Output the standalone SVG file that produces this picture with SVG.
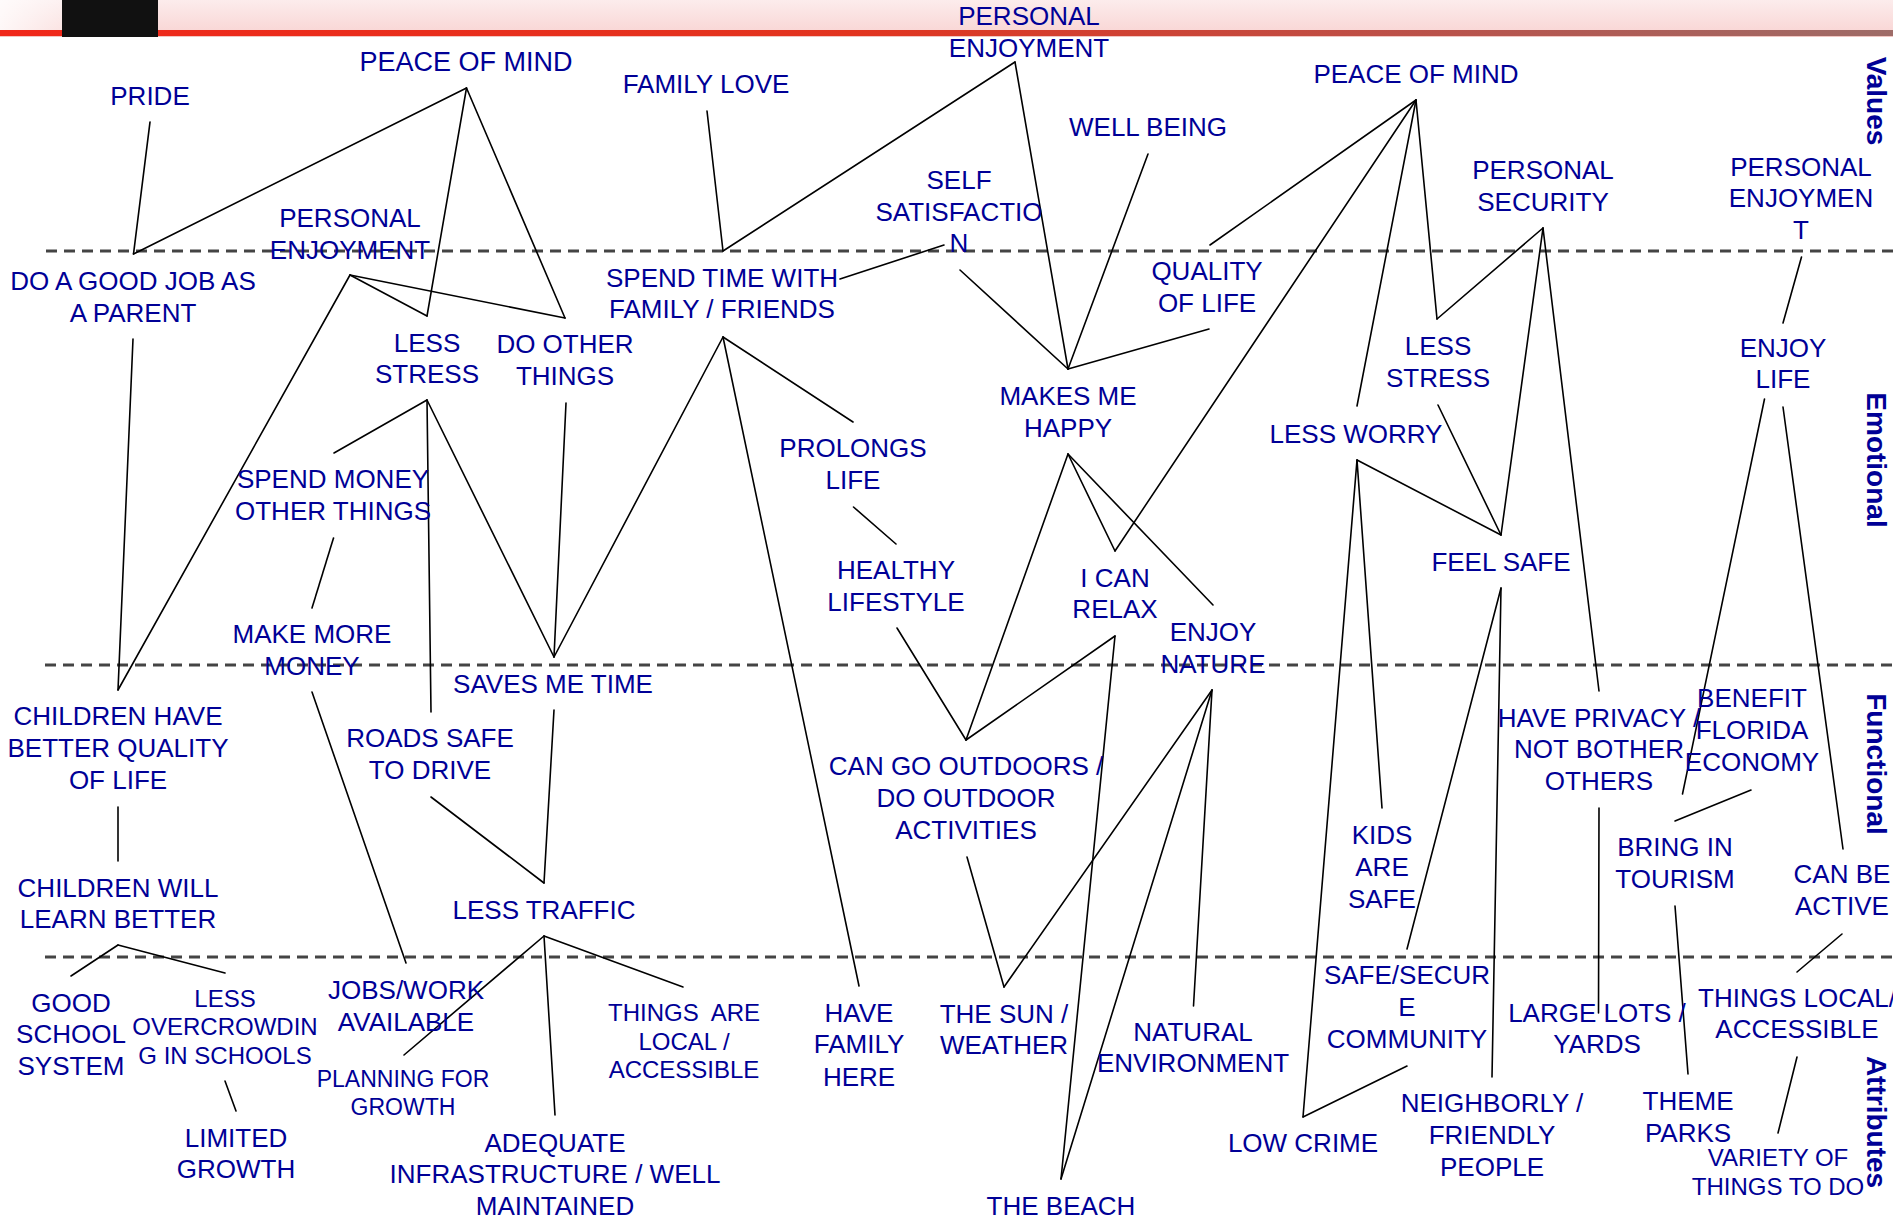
<svg xmlns="http://www.w3.org/2000/svg" width="1893" height="1224" viewBox="0 0 1893 1224">
<defs>
<linearGradient id="band" x1="0" y1="0" x2="0" y2="1">
<stop offset="0" stop-color="#fcecec"/>
<stop offset="1" stop-color="#f9d7d6"/>
</linearGradient>
<linearGradient id="fade" x1="0" y1="0" x2="1" y2="0">
<stop offset="0" stop-color="#ffffff" stop-opacity="0.8"/>
<stop offset="1" stop-color="#ffffff" stop-opacity="0.3"/>
</linearGradient>
<linearGradient id="red" x1="0" y1="0" x2="1" y2="0">
<stop offset="0" stop-color="#f0281a"/>
<stop offset="0.45" stop-color="#e2341f"/>
<stop offset="0.75" stop-color="#bb5149"/>
<stop offset="1" stop-color="#9e6c68"/>
</linearGradient>
</defs>
<style>
.t{font-family:"Liberation Sans",Arial,sans-serif;font-size:26px;fill:#000096;text-anchor:middle}
.s24{font-size:24px}
.s23{font-size:23px}
.s27{font-size:27px}
.lab{font-family:"Liberation Sans",Arial,sans-serif;font-size:28px;font-weight:bold;fill:#000096;text-anchor:middle}
.c line{stroke:#000;stroke-width:1.6;stroke-linecap:round}
.d{stroke:#444;stroke-width:3;stroke-dasharray:11 7;fill:none}
</style>
<rect x="0" y="0" width="1893" height="1224" fill="#ffffff"/>
<g id="header">
<rect x="0" y="0" width="1893" height="31" fill="url(#band)"/>
<rect x="0" y="0" width="62" height="31" fill="url(#fade)"/>
<rect x="0" y="30" width="1893" height="6" fill="url(#red)"/>
<rect x="0" y="36" width="1893" height="1" fill="#f2c6c2"/>
<rect x="62" y="0" width="96" height="37" fill="#111111"/>
</g>
<g id="levels">
<line class="d" x1="46" y1="251" x2="1893" y2="251"/>
<line class="d" x1="45" y1="665" x2="1893" y2="665"/>
<line class="d" x1="45" y1="957" x2="1893" y2="957"/>
<text class="lab" transform="translate(1867,101) rotate(90)">Values</text>
<text class="lab" transform="translate(1867,460) rotate(90)">Emotional</text>
<text class="lab" transform="translate(1867,764) rotate(90)">Functional</text>
<text class="lab" transform="translate(1867,1122) rotate(90)">Attributes</text>
</g>
<g id="connectors" class="c">
<line x1="150" y1="122" x2="133.5" y2="254"/>
<line x1="466.5" y1="88" x2="133.5" y2="254"/>
<line x1="466.5" y1="88" x2="427" y2="316"/>
<line x1="466.5" y1="88" x2="565" y2="318"/>
<line x1="350" y1="275" x2="427" y2="316"/>
<line x1="350" y1="275" x2="565" y2="318"/>
<line x1="350" y1="275" x2="118" y2="690"/>
<line x1="133" y1="339" x2="118" y2="690"/>
<line x1="427" y1="400" x2="334" y2="453"/>
<line x1="427" y1="400" x2="431" y2="712"/>
<line x1="427" y1="400" x2="554" y2="657"/>
<line x1="566" y1="403" x2="554" y2="657"/>
<line x1="554" y1="657" x2="723" y2="337"/>
<line x1="333.5" y1="538" x2="312" y2="608"/>
<line x1="312" y1="692" x2="406" y2="963"/>
<line x1="118" y1="807" x2="118" y2="861"/>
<line x1="431" y1="797" x2="544" y2="883"/>
<line x1="554" y1="710" x2="544" y2="883"/>
<line x1="118" y1="945" x2="71" y2="976"/>
<line x1="118" y1="945" x2="225" y2="973"/>
<line x1="225" y1="1081" x2="236" y2="1111"/>
<line x1="544" y1="936" x2="404" y2="1055"/>
<line x1="544" y1="936" x2="555" y2="1115"/>
<line x1="544" y1="936" x2="683" y2="987"/>
<line x1="707" y1="111" x2="723" y2="251"/>
<line x1="1015" y1="62" x2="723" y2="251"/>
<line x1="1015" y1="62" x2="1068" y2="369"/>
<line x1="1148" y1="154" x2="1068" y2="369"/>
<line x1="840" y1="279" x2="944" y2="245"/>
<line x1="960" y1="270" x2="1068" y2="369"/>
<line x1="1209" y1="329" x2="1068" y2="369"/>
<line x1="1210" y1="245" x2="1416" y2="100"/>
<line x1="723" y1="337" x2="853" y2="422"/>
<line x1="723" y1="337" x2="859" y2="986"/>
<line x1="853.5" y1="507" x2="896" y2="544"/>
<line x1="897" y1="628" x2="966" y2="740"/>
<line x1="966" y1="740" x2="1068" y2="454"/>
<line x1="966" y1="740" x2="1115" y2="636"/>
<line x1="1068" y1="454" x2="1115" y2="551"/>
<line x1="1068" y1="454" x2="1213" y2="605"/>
<line x1="1115" y1="551" x2="1416" y2="100"/>
<line x1="1115" y1="636" x2="1061" y2="1179"/>
<line x1="967" y1="857" x2="1004" y2="987"/>
<line x1="1004" y1="987" x2="1212" y2="690"/>
<line x1="1061" y1="1179" x2="1212" y2="690"/>
<line x1="1193.5" y1="1006" x2="1212" y2="690"/>
<line x1="1416" y1="100" x2="1357" y2="406"/>
<line x1="1416" y1="100" x2="1437" y2="319"/>
<line x1="1543" y1="228" x2="1437" y2="319"/>
<line x1="1543" y1="228" x2="1501" y2="535"/>
<line x1="1543" y1="228" x2="1599" y2="691"/>
<line x1="1438" y1="405" x2="1501" y2="535"/>
<line x1="1357" y1="460" x2="1501" y2="535"/>
<line x1="1357" y1="460" x2="1303" y2="1117"/>
<line x1="1357" y1="460" x2="1382" y2="808"/>
<line x1="1501" y1="588" x2="1407" y2="949"/>
<line x1="1501" y1="588" x2="1492" y2="1077"/>
<line x1="1407" y1="1066" x2="1303" y2="1117"/>
<line x1="1599" y1="808" x2="1598.5" y2="1013"/>
<line x1="1801.5" y1="257" x2="1783" y2="323"/>
<line x1="1764.5" y1="399" x2="1682.5" y2="794"/>
<line x1="1783" y1="407" x2="1843" y2="849"/>
<line x1="1751" y1="790" x2="1675" y2="821"/>
<line x1="1675" y1="906" x2="1688" y2="1074"/>
<line x1="1842" y1="934" x2="1797" y2="972"/>
<line x1="1797" y1="1057" x2="1778" y2="1133"/>
</g>
<g id="n-pride"><text class="t" x="150" y="105">PRIDE</text></g>
<g id="n-peace1"><text class="t s27" x="466" y="71">PEACE OF MIND</text></g>
<g id="n-familylove"><text class="t" x="706" y="93">FAMILY LOVE</text></g>
<g id="n-enjoy-mid"><text class="t"><tspan x="1029" y="25">PERSONAL</tspan><tspan x="1029" y="57">ENJOYMENT</tspan></text></g>
<g id="n-wellbeing"><text class="t" x="1148" y="136">WELL BEING</text></g>
<g id="n-peace2"><text class="t" x="1416" y="83">PEACE OF MIND</text></g>
<g id="n-security"><text class="t"><tspan x="1543" y="179">PERSONAL</tspan><tspan x="1543" y="211">SECURITY</tspan></text></g>
<g id="n-enjoy-right"><text class="t"><tspan x="1801" y="176">PERSONAL</tspan><tspan x="1801" y="207">ENJOYMEN</tspan><tspan x="1801" y="239">T</tspan></text></g>
<g id="n-selfsat"><text class="t"><tspan x="959" y="189">SELF</tspan><tspan x="959" y="221">SATISFACTIO</tspan><tspan x="959" y="252">N</tspan></text></g>
<g id="n-enjoy-left"><text class="t"><tspan x="350" y="227">PERSONAL</tspan><tspan x="350" y="259">ENJOYMENT</tspan></text></g>
<g id="n-goodjob"><text class="t"><tspan x="133" y="290">DO A GOOD JOB AS</tspan><tspan x="133" y="322">A PARENT</tspan></text></g>
<g id="n-spendtime"><text class="t"><tspan x="722" y="287">SPEND TIME WITH</tspan><tspan x="722" y="318">FAMILY / FRIENDS</tspan></text></g>
<g id="n-quality"><text class="t"><tspan x="1207" y="280">QUALITY</tspan><tspan x="1207" y="312">OF LIFE</tspan></text></g>
<g id="n-lessstress1"><text class="t"><tspan x="427" y="352">LESS</tspan><tspan x="427" y="383">STRESS</tspan></text></g>
<g id="n-dootherthings"><text class="t"><tspan x="565" y="353">DO OTHER</tspan><tspan x="565" y="385">THINGS</tspan></text></g>
<g id="n-lessstress2"><text class="t"><tspan x="1438" y="355">LESS</tspan><tspan x="1438" y="387">STRESS</tspan></text></g>
<g id="n-enjoylife"><text class="t"><tspan x="1783" y="357">ENJOY</tspan><tspan x="1783" y="388">LIFE</tspan></text></g>
<g id="n-happy"><text class="t"><tspan x="1068" y="405">MAKES ME</tspan><tspan x="1068" y="437">HAPPY</tspan></text></g>
<g id="n-lessworry"><text class="t" x="1356" y="443">LESS WORRY</text></g>
<g id="n-prolongs"><text class="t"><tspan x="853" y="457">PROLONGS</tspan><tspan x="853" y="489">LIFE</tspan></text></g>
<g id="n-spendmoney"><text class="t"><tspan x="333" y="488">SPEND MONEY</tspan><tspan x="333" y="520">OTHER THINGS</tspan></text></g>
<g id="n-feelsafe"><text class="t" x="1501" y="571">FEEL SAFE</text></g>
<g id="n-healthy"><text class="t"><tspan x="896" y="579">HEALTHY</tspan><tspan x="896" y="611">LIFESTYLE</tspan></text></g>
<g id="n-relax"><text class="t"><tspan x="1115" y="587">I CAN</tspan><tspan x="1115" y="618">RELAX</tspan></text></g>
<g id="n-nature"><text class="t"><tspan x="1213" y="641">ENJOY</tspan><tspan x="1213" y="673">NATURE</tspan></text></g>
<g id="n-makemoney"><text class="t"><tspan x="312" y="643">MAKE MORE</tspan><tspan x="312" y="675">MONEY</tspan></text></g>
<g id="n-savestime"><text class="t" x="553" y="693">SAVES ME TIME</text></g>
<g id="n-childrenquality"><text class="t"><tspan x="118" y="725">CHILDREN HAVE</tspan><tspan x="118" y="757">BETTER QUALITY</tspan><tspan x="118" y="789">OF LIFE</tspan></text></g>
<g id="n-roads"><text class="t"><tspan x="430" y="747">ROADS SAFE</tspan><tspan x="430" y="779">TO DRIVE</tspan></text></g>
<g id="n-privacy"><text class="t"><tspan x="1599" y="727">HAVE PRIVACY /</tspan><tspan x="1599" y="758">NOT BOTHER</tspan><tspan x="1599" y="790">OTHERS</tspan></text></g>
<g id="n-economy"><text class="t"><tspan x="1752" y="707">BENEFIT</tspan><tspan x="1752" y="739">FLORIDA</tspan><tspan x="1752" y="771">ECONOMY</tspan></text></g>
<g id="n-outdoors"><text class="t"><tspan x="966" y="775">CAN GO OUTDOORS /</tspan><tspan x="966" y="807">DO OUTDOOR</tspan><tspan x="966" y="839">ACTIVITIES</tspan></text></g>
<g id="n-kids"><text class="t"><tspan x="1382" y="844">KIDS</tspan><tspan x="1382" y="876">ARE</tspan><tspan x="1382" y="908">SAFE</tspan></text></g>
<g id="n-tourism"><text class="t"><tspan x="1675" y="856">BRING IN</tspan><tspan x="1675" y="888">TOURISM</tspan></text></g>
<g id="n-active"><text class="t"><tspan x="1842" y="883">CAN BE</tspan><tspan x="1842" y="915">ACTIVE</tspan></text></g>
<g id="n-learn"><text class="t"><tspan x="118" y="897">CHILDREN WILL</tspan><tspan x="118" y="928">LEARN BETTER</tspan></text></g>
<g id="n-traffic"><text class="t" x="544" y="919">LESS TRAFFIC</text></g>
<g id="n-goodschool"><text class="t"><tspan x="71" y="1012">GOOD</tspan><tspan x="71" y="1043">SCHOOL</tspan><tspan x="71" y="1075">SYSTEM</tspan></text></g>
<g id="n-overcrowd"><text class="t s24"><tspan x="225" y="1007">LESS</tspan><tspan x="225" y="1035">OVERCROWDIN</tspan><tspan x="225" y="1064">G IN SCHOOLS</tspan></text></g>
<g id="n-jobs"><text class="t"><tspan x="406" y="999">JOBS/WORK</tspan><tspan x="406" y="1031">AVAILABLE</tspan></text></g>
<g id="n-planning"><text class="t s23"><tspan x="403" y="1087">PLANNING FOR</tspan><tspan x="403" y="1115">GROWTH</tspan></text></g>
<g id="n-thingsarelocal"><text class="t s24" xml:space="preserve"><tspan x="684" y="1021">THINGS  ARE</tspan><tspan x="684" y="1050">LOCAL /</tspan><tspan x="684" y="1078">ACCESSIBLE</tspan></text></g>
<g id="n-family"><text class="t"><tspan x="859" y="1022">HAVE</tspan><tspan x="859" y="1053">FAMILY</tspan><tspan x="859" y="1086">HERE</tspan></text></g>
<g id="n-sun"><text class="t"><tspan x="1004" y="1023">THE SUN /</tspan><tspan x="1004" y="1054">WEATHER</tspan></text></g>
<g id="n-natural"><text class="t"><tspan x="1193" y="1041">NATURAL</tspan><tspan x="1193" y="1072">ENVIRONMENT</tspan></text></g>
<g id="n-community"><text class="t"><tspan x="1407" y="984">SAFE/SECUR</tspan><tspan x="1407" y="1016">E</tspan><tspan x="1407" y="1048">COMMUNITY</tspan></text></g>
<g id="n-lots"><text class="t"><tspan x="1597" y="1022">LARGE LOTS /</tspan><tspan x="1597" y="1053">YARDS</tspan></text></g>
<g id="n-thingslocal"><text class="t"><tspan x="1797" y="1007">THINGS LOCAL/</tspan><tspan x="1797" y="1038">ACCESSIBLE</tspan></text></g>
<g id="n-limited"><text class="t"><tspan x="236" y="1147">LIMITED</tspan><tspan x="236" y="1178">GROWTH</tspan></text></g>
<g id="n-infra"><text class="t"><tspan x="555" y="1152">ADEQUATE</tspan><tspan x="555" y="1183">INFRASTRUCTURE / WELL</tspan><tspan x="555" y="1215">MAINTAINED</tspan></text></g>
<g id="n-lowcrime"><text class="t" x="1303" y="1152">LOW CRIME</text></g>
<g id="n-neighborly"><text class="t"><tspan x="1492" y="1112">NEIGHBORLY /</tspan><tspan x="1492" y="1144">FRIENDLY</tspan><tspan x="1492" y="1176">PEOPLE</tspan></text></g>
<g id="n-theme"><text class="t"><tspan x="1688" y="1110">THEME</tspan><tspan x="1688" y="1142">PARKS</tspan></text></g>
<g id="n-variety"><text class="t s24"><tspan x="1778" y="1166">VARIETY OF</tspan><tspan x="1778" y="1195">THINGS TO DO</tspan></text></g>
<g id="n-beach"><text class="t" x="1061" y="1215">THE BEACH</text></g>
</svg>
